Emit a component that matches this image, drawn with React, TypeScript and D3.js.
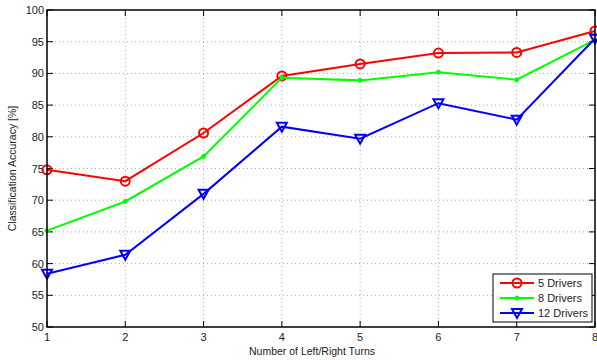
import React from 'react';
import * as d3 from 'd3';

const turns = [1, 2, 3, 4, 5, 6, 7, 8];
const drivers5 = [74.8, 73.0, 80.6, 89.6, 91.5, 93.2, 93.3, 96.7];
const drivers8 = [65.2, 69.8, 76.9, 89.3, 88.9, 90.2, 89.0, 95.3];
const drivers12 = [58.4, 61.4, 71.0, 81.6, 79.7, 85.3, 82.7, 95.5];
const yTicks = [50, 55, 60, 65, 70, 75, 80, 85, 90, 95, 100];
const seriesNames = ['5 Drivers', '8 Drivers', '12 Drivers'];
const seriesColors = ['#ff0000', '#00ff00', '#0000ff'];

const W = 597, H = 360;
const L = 47, R = 595, T = 10, B = 327;
const font = 'Liberation Sans, Arial, Helvetica, sans-serif';

export default function App() {
  const x = d3.scaleLinear().domain([1, 8]).range([L, R]);
  const y = d3.scaleLinear().domain([50, 100]).range([B, T]);
  const line = d3.line<number>().x((_, i) => x(turns[i])).y(d => y(d));
  const series = [drivers5, drivers8, drivers12];

  const marker = (k: number, cx: number, cy: number, key: string) => {
    const c = seriesColors[k];
    if (k === 0) return <circle key={key} cx={cx} cy={cy} r={4.5} fill="none" stroke={c} strokeWidth={2} />;
    if (k === 1) return <circle key={key} cx={cx} cy={cy} r={2} fill={c} stroke={c} strokeWidth={1} />;
    return <path key={key} d={`M${cx - 5},${cy - 4}L${cx + 5},${cy - 4}L${cx},${cy + 5}Z`} fill="none" stroke={c} strokeWidth={2} />;
  };

  const lx = 493, ly = 274, lw = 99, lh = 48;

  return (
    <svg width={W} height={H} style={{ position: 'absolute', left: 0, top: 0, background: '#fff' }} fontFamily={font}>
      <rect x={0} y={0} width={W} height={H} fill="#fff" />
      {turns.slice(1, -1).map(t => (
        <line key={'gx' + t} x1={x(t)} x2={x(t)} y1={T} y2={B} stroke="#aaa" strokeWidth={1} strokeDasharray="1,3" />
      ))}
      {yTicks.slice(1, -1).map(v => (
        <line key={'gy' + v} x1={L} x2={R} y1={y(v)} y2={y(v)} stroke="#aaa" strokeWidth={1} strokeDasharray="1,3" />
      ))}
      {turns.map(t => (
        <g key={'tx' + t}>
          <line x1={x(t)} x2={x(t)} y1={B} y2={B - 6} stroke="#000" />
          <line x1={x(t)} x2={x(t)} y1={T} y2={T + 6} stroke="#000" />
          <text x={x(t)} y={B + 14} fontSize={11} textAnchor="middle" fill="#222">{t}</text>
        </g>
      ))}
      {yTicks.map(v => (
        <g key={'ty' + v}>
          <line x1={L} x2={L + 6} y1={y(v)} y2={y(v)} stroke="#000" />
          <line x1={R} x2={R - 6} y1={y(v)} y2={y(v)} stroke="#000" />
          <text x={L - 3} y={y(v) + 4} fontSize={11} textAnchor="end" fill="#222">{v}</text>
        </g>
      ))}
      {series.map((s, k) => (
        <g key={'s' + k}>
          <path d={line(s) || ''} fill="none" stroke={seriesColors[k]} strokeWidth={2} />
          {s.map((v, i) => marker(k, x(turns[i]), y(v), 'm' + k + '-' + i))}
        </g>
      ))}
      <rect x={L} y={T} width={R - L} height={B - T} fill="none" stroke="#000" strokeWidth={1.5} />
      <text x={(L + R) / 2 - 9} y={355} fontSize={10.5} textAnchor="middle" fill="#222">Number of Left/Right Turns</text>
      <text transform={`translate(16,${(T + B) / 2}) rotate(-90)`} fontSize={10.5} textAnchor="middle" fill="#222">Classification Accuracy [%]</text>
      <rect x={lx} y={ly} width={lw} height={lh} fill="#fff" stroke="#000" strokeWidth={1} />
      {seriesNames.map((n, k) => {
        const yy = ly + 9 + k * 15;
        return (
          <g key={'lg' + k}>
            <line x1={lx + 7} x2={lx + 41} y1={yy} y2={yy} stroke={seriesColors[k]} strokeWidth={2} />
            {marker(k, lx + 24, yy, 'lm' + k)}
            <text x={lx + 45} y={yy + 4} fontSize={11} fill="#222">{n}</text>
          </g>
        );
      })}
    </svg>
  );
}
